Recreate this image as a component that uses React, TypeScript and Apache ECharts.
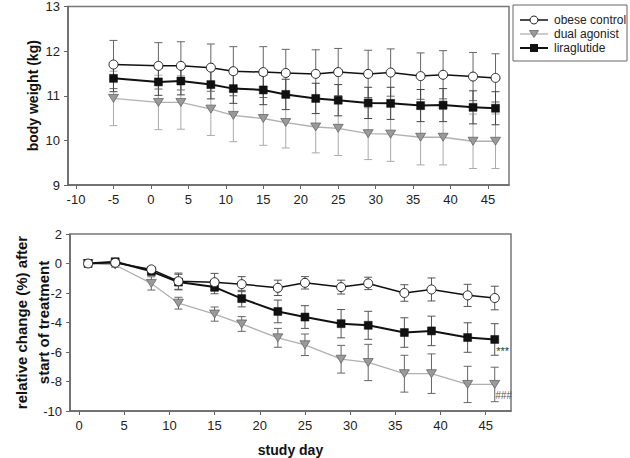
import React, { useEffect, useRef } from "react";
import * as echarts from "echarts";

// ---- data ----
const daysTop = [-5, 1, 4, 8, 11, 15, 18, 22, 25, 29, 32, 36, 39, 43, 46];
const obeseKg = [11.7, 11.67, 11.67, 11.63, 11.55, 11.53, 11.51, 11.49, 11.53, 11.49, 11.52, 11.44, 11.47, 11.43, 11.4];
const obeseKgErr = [0.54, 0.52, 0.54, 0.53, 0.55, 0.57, 0.53, 0.54, 0.53, 0.53, 0.53, 0.52, 0.54, 0.54, 0.54];
const dualKg = [10.94, 10.85, 10.85, 10.7, 10.56, 10.49, 10.4, 10.3, 10.27, 10.15, 10.14, 10.07, 10.07, 9.98, 9.98];
const dualKgErr = [0.61, 0.61, 0.6, 0.59, 0.59, 0.6, 0.57, 0.58, 0.61, 0.58, 0.61, 0.62, 0.62, 0.61, 0.61];
const liraKg = [11.39, 11.31, 11.33, 11.25, 11.16, 11.13, 11.03, 10.94, 10.9, 10.84, 10.83, 10.78, 10.79, 10.74, 10.72];
const liraKgErr = [0.3, 0.3, 0.31, 0.32, 0.33, 0.33, 0.34, 0.34, 0.35, 0.35, 0.36, 0.36, 0.37, 0.37, 0.37];

const daysBottom = [1, 4, 8, 11, 15, 18, 22, 25, 29, 32, 36, 39, 43, 46];
const obeseRel = [0, 0.05, -0.4, -1.2, -1.27, -1.4, -1.65, -1.31, -1.6, -1.35, -2.0, -1.76, -2.16, -2.34];
const obeseRelErr = [0.1, 0.2, 0.2, 0.55, 0.6, 0.51, 0.52, 0.42, 0.47, 0.42, 0.56, 0.78, 0.75, 0.8];
const dualRel = [0, -0.1, -1.35, -2.69, -3.43, -4.1, -5.04, -5.51, -6.49, -6.71, -7.47, -7.47, -8.2, -8.2];
const dualRelErr = [0.1, 0.15, 0.45, 0.4, 0.48, 0.5, 0.64, 0.73, 0.94, 1.23, 1.25, 1.34, 1.23, 1.17];
const liraRel = [0, 0.12, -0.53, -1.26, -1.6, -2.38, -3.25, -3.63, -4.08, -4.19, -4.68, -4.57, -5.02, -5.15];
const liraRelErr = [0.1, 0.15, 0.25, 0.53, 0.45, 0.56, 0.77, 0.77, 0.96, 0.95, 1.0, 1.0, 1.0, 1.07];

const topXTicks = [-10, -5, 0, 5, 10, 15, 20, 25, 30, 35, 40, 45];
const bottomXTicks = [0, 5, 10, 15, 20, 25, 30, 35, 40, 45];

const seriesNames = ["obese control", "dual agonist", "liraglutide"];
const sigLira = "***";
const sigDual = "###";

const FONT = "'Liberation Sans', Arial, Helvetica, sans-serif";
const TRI = "path://M0,0 L10,0 L5,9 Z";

function errSeries(name: string, days: number[], vals: number[], errs: number[], color: string, axis: number) {
  return {
    type: "custom",
    name,
    xAxisIndex: axis,
    yAxisIndex: axis,
    z: 1,
    silent: true,
    data: days.map((d, i) => [d, vals[i] - errs[i], vals[i] + errs[i]]),
    renderItem: (params: any, api: any) => {
      const x = api.value(0);
      const lo = api.coord([x, api.value(1)]);
      const hi = api.coord([x, api.value(2)]);
      const w = 4;
      const st = { stroke: color, lineWidth: 1 };
      return {
        type: "group",
        children: [
          { type: "line", shape: { x1: lo[0], y1: lo[1], x2: hi[0], y2: hi[1] }, style: st },
          { type: "line", shape: { x1: lo[0] - w, y1: lo[1], x2: lo[0] + w, y2: lo[1] }, style: st },
          { type: "line", shape: { x1: hi[0] - w, y1: hi[1], x2: hi[0] + w, y2: hi[1] }, style: st },
        ],
      };
    },
  };
}

const styles: any = {
  "obese control": {
    symbol: "circle",
    symbolSize: 9,
    lineStyle: { color: "#111", width: 1.5 },
    itemStyle: { color: "#fff", borderColor: "#222", borderWidth: 1 },
  },
  "dual agonist": {
    symbol: TRI,
    symbolSize: [10, 8],
    lineStyle: { color: "#b0b0b0", width: 1.3 },
    itemStyle: { color: "#9a9a9a", borderColor: "#666", borderWidth: 0.8 },
  },
  liraglutide: {
    symbol: "rect",
    symbolSize: 8,
    lineStyle: { color: "#111", width: 2 },
    itemStyle: { color: "#111", borderColor: "#111", borderWidth: 0.5 },
  },
};

function lineSeries(name: string, days: number[], vals: number[], axis: number, extra: any = {}) {
  return {
    type: "line",
    name,
    xAxisIndex: axis,
    yAxisIndex: axis,
    z: 3,
    data: days.map((d, i) => [d, vals[i]]),
    showSymbol: true,
    ...styles[name],
    ...extra,
  };
}

// legend drawn with graphic elements (not data marks)
function legendGraphic() {
  const left = 513, top = 5, w = 114, h = 56;
  const rows = [20, 34, 48];
  const children: any[] = [
    { type: "rect", shape: { x: left, y: top, width: w, height: h }, style: { fill: "#fff", stroke: "#666", lineWidth: 1 } },
  ];
  seriesNames.forEach((name, i) => {
    const y = rows[i];
    const s = styles[name];
    children.push({ type: "line", shape: { x1: 520, y1: y, x2: 548, y2: y }, style: { stroke: s.lineStyle.color, lineWidth: s.lineStyle.width } });
    if (name === "obese control") {
      children.push({ type: "circle", shape: { cx: 534, cy: y, r: 4 }, style: { fill: "#fff", stroke: "#222", lineWidth: 1 } });
    } else if (name === "dual agonist") {
      children.push({ type: "polygon", shape: { points: [[529.5, y - 3.5], [538.5, y - 3.5], [534, y + 3.5]] }, style: { fill: "#9a9a9a", stroke: "#666", lineWidth: 0.8 } });
    } else {
      children.push({ type: "rect", shape: { x: 530, y: y - 4, width: 8, height: 8 }, style: { fill: "#111" } });
    }
    children.push({ type: "text", x: 554, y, style: { text: name, fontSize: 12, fontFamily: FONT, fill: "#222", verticalAlign: "middle", align: "left" } });
  });
  return [{ type: "group", children, z: 10 }];
}

const axisLine = { onZero: false, lineStyle: { color: "#666", width: 1.5 } };
const axisTick = { show: true, inside: false, length: 4, lineStyle: { color: "#666", width: 1 } };
const axisLabel = { color: "#222", fontSize: 13, fontFamily: FONT };
const nameStyle = { color: "#111", fontSize: 14, fontWeight: "bold", fontFamily: FONT };

export default function App() {
  const ref = useRef<HTMLDivElement>(null);
  useEffect(() => {
    if (!ref.current) return;
    const chart = echarts.init(ref.current, undefined, { renderer: "svg" });
    const nB = daysBottom.length;
    const option: any = {
      animation: false,
      backgroundColor: "#fff",
      textStyle: { fontFamily: FONT },
      graphic: legendGraphic(),
      grid: [
        { left: 68, top: 5, width: 441, height: 180, show: true, borderColor: "#777", borderWidth: 1.5, backgroundColor: "transparent" },
        { left: 70, top: 234, width: 441, height: 179, show: true, borderColor: "#777", borderWidth: 1.5, backgroundColor: "transparent" },
      ],
      xAxis: [
        {
          type: "value",
          gridIndex: 0,
          min: -11.07,
          max: 47.8,
          splitLine: { show: false },
          axisLine,
          axisTick: { ...axisTick, customValues: topXTicks },
          axisLabel: { ...axisLabel, margin: 8, customValues: topXTicks },
        },
        {
          type: "value",
          gridIndex: 1,
          min: -1,
          max: 47.8,
          splitLine: { show: false },
          axisLine,
          axisTick: { ...axisTick, customValues: bottomXTicks },
          axisLabel: { ...axisLabel, margin: 8, customValues: bottomXTicks },
          name: "study day",
          nameLocation: "middle",
          nameGap: 32,
          nameMoveOverlap: false,
          nameTextStyle: nameStyle,
        },
      ],
      yAxis: [
        {
          type: "value",
          gridIndex: 0,
          min: 9,
          max: 13,
          interval: 1,
          splitLine: { show: false },
          axisLine: { show: true, ...axisLine },
          axisTick,
          axisLabel: { ...axisLabel, margin: 8 },
          name: "body weight (kg)",
          nameLocation: "middle",
          nameGap: 28,
          nameRotate: 90,
          nameMoveOverlap: false,
          nameTextStyle: nameStyle,
        },
        {
          type: "value",
          gridIndex: 1,
          min: -10,
          max: 2,
          interval: 2,
          splitLine: { show: false },
          axisLine: { show: true, ...axisLine },
          axisTick,
          axisLabel: { ...axisLabel, margin: 8 },
          name: "relative change (%) after\nstart of treatment",
          nameLocation: "middle",
          nameGap: 16,
          nameRotate: 90,
          nameMoveOverlap: false,
          nameTextStyle: { ...nameStyle, fontSize: 15, lineHeight: 22 },
        },
      ],
      series: [
        errSeries("e1", daysTop, obeseKg, obeseKgErr, "#666", 0),
        errSeries("e2", daysTop, dualKg, dualKgErr, "#aaa", 0),
        errSeries("e3", daysTop, liraKg, liraKgErr, "#444", 0),
        lineSeries("dual agonist", daysTop, dualKg, 0),
        lineSeries("liraglutide", daysTop, liraKg, 0),
        lineSeries("obese control", daysTop, obeseKg, 0),
        errSeries("e4", daysBottom, obeseRel, obeseRelErr, "#555", 1),
        errSeries("e5", daysBottom, dualRel, dualRelErr, "#666", 1),
        errSeries("e6", daysBottom, liraRel, liraRelErr, "#555", 1),
        lineSeries("dual agonist", daysBottom, dualRel, 1, {
          markPoint: {
            symbol: "circle",
            symbolSize: 1,
            itemStyle: { color: "transparent" },
            silent: true,
            data: [{ coord: [daysBottom[nB - 1], dualRel[nB - 1]] }],
            label: { show: true, formatter: sigDual, position: [1, 7], fontSize: 10, fontStyle: "italic", color: "#555", fontFamily: FONT },
          },
        }),
        lineSeries("liraglutide", daysBottom, liraRel, 1, {
          markPoint: {
            symbol: "circle",
            symbolSize: 1,
            itemStyle: { color: "transparent" },
            silent: true,
            data: [{ coord: [daysBottom[nB - 1], liraRel[nB - 1]] }],
            label: { show: true, formatter: sigLira, position: [2, 7], fontSize: 11, color: "#333", fontFamily: FONT },
          },
        }),
        lineSeries("obese control", daysBottom, obeseRel, 1),
      ],
    };
    chart.setOption(option);
    return () => chart.dispose();
  }, []);
  return <div ref={ref} style={{ position: "fixed", left: 0, top: 0, width: 630, height: 458 }} />;
}
